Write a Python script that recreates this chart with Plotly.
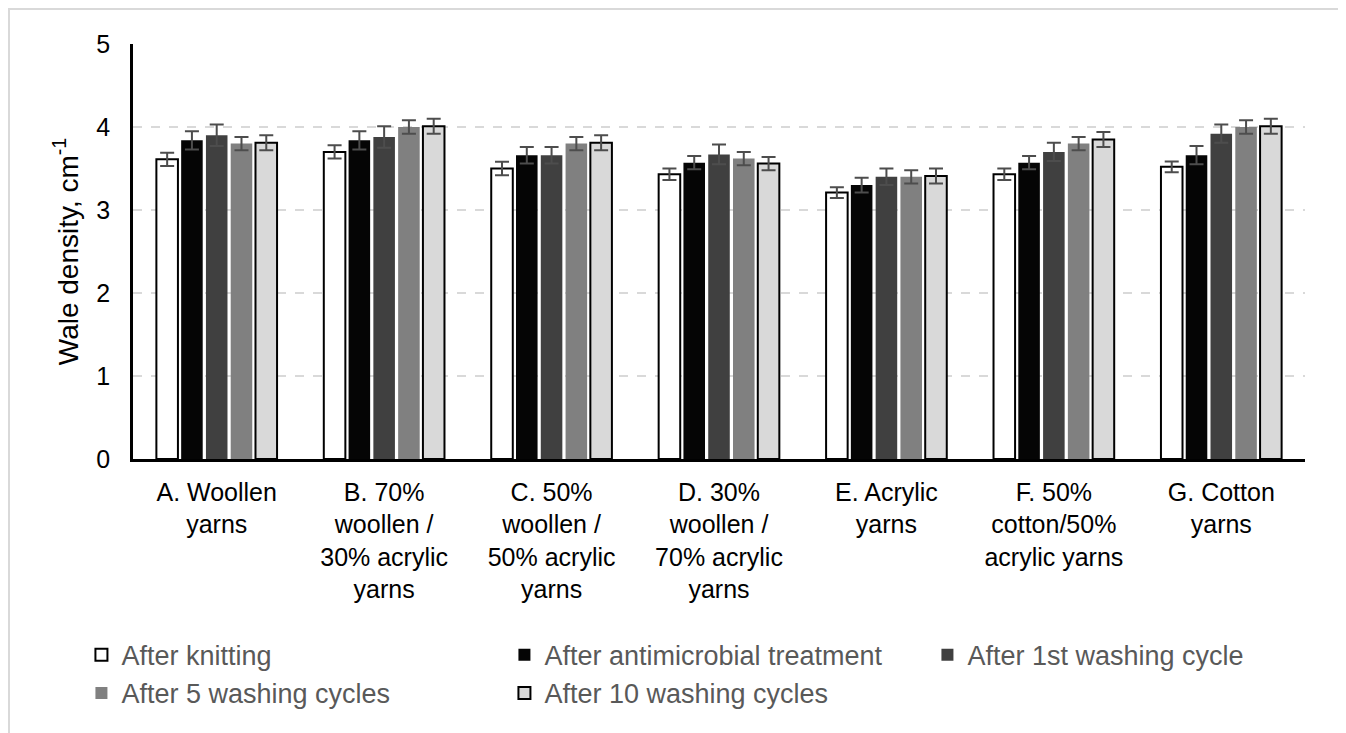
import plotly.graph_objects as go

categories = ["A. Woollen<br>yarns",
              "B. 70%<br>woollen /<br>30% acrylic<br>yarns",
              "C. 50%<br>woollen /<br>50% acrylic<br>yarns",
              "D. 30%<br>woollen /<br>70% acrylic<br>yarns",
              "E. Acrylic<br>yarns",
              "F. 50%<br>cotton/50%<br>acrylic yarns",
              "G. Cotton<br>yarns"]

series_names = ["After knitting", "After antimicrobial treatment", "After 1st washing cycle",
                "After 5 washing cycles", "After 10 washing cycles"]

after_knitting = [3.61, 3.70, 3.50, 3.43, 3.21, 3.43, 3.52]
after_antimicrobial = [3.84, 3.84, 3.66, 3.57, 3.30, 3.57, 3.66]
after_1st_wash = [3.90, 3.88, 3.66, 3.67, 3.40, 3.70, 3.92]
after_5_wash = [3.80, 4.00, 3.80, 3.62, 3.40, 3.80, 4.00]
after_10_wash = [3.81, 4.01, 3.81, 3.56, 3.41, 3.85, 4.01]

err_knitting = [0.08, 0.08, 0.08, 0.07, 0.065, 0.07, 0.065]
err_antimicrobial = [0.11, 0.11, 0.10, 0.08, 0.09, 0.08, 0.11]
err_1st_wash = [0.13, 0.13, 0.10, 0.12, 0.10, 0.11, 0.11]
err_5_wash = [0.08, 0.08, 0.08, 0.08, 0.08, 0.08, 0.08]
err_10_wash = [0.09, 0.09, 0.09, 0.08, 0.09, 0.09, 0.09]

y_ticks = [0, 1, 2, 3, 4, 5]

values = [after_knitting, after_antimicrobial, after_1st_wash, after_5_wash, after_10_wash]
errors = [err_knitting, err_antimicrobial, err_1st_wash, err_5_wash, err_10_wash]
fills = ["#ffffff", "#050505", "#404040", "#808080", "#d9d9d9"]
outlines = [2, 0, 0, 0, 2]

FONT = "Liberation Sans, Arial, sans-serif"

# plot area in figure pixels
L, T, PW, PH = 125, 36, 1172, 415
W, H = 1346, 733

fig = go.Figure()
for name, vals, errs, fc, lw in zip(series_names, values, errors, fills, outlines):
    fig.add_trace(go.Bar(
        name=name, x=categories, y=vals,
        marker=dict(color=fc, line=dict(color="#000000", width=lw)),
        error_y=dict(type="data", array=errs, visible=True, color="#4d4d4d", thickness=2, width=7),
    ))

fig.update_layout(
    width=W, height=H,
    margin=dict(l=L, r=W - L - PW, t=T, b=H - T - PH, autoexpand=False),
    paper_bgcolor="white", plot_bgcolor="white",
    barmode="group", bargap=0.26, bargroupgap=0.13,
    font=dict(family=FONT, color="#000000"),
    showlegend=True,
    legend=dict(orientation="h", x=-0.044, xanchor="left", y=-0.414, yanchor="top",
                font=dict(size=27, color="#595959", family=FONT),
                entrywidth=378, itemwidth=30, traceorder="normal",
                bgcolor="rgba(0,0,0,0)"),
    xaxis=dict(showline=True, linecolor="#000000", linewidth=2.5, ticks="",
               tickfont=dict(size=25, color="#000000"), ticklabelstandoff=9),
    yaxis=dict(range=[0, 5], tickvals=y_ticks, showline=True, linecolor="#000000", linewidth=2.5,
               showgrid=True, gridcolor="#d9d9d9", griddash="dash", gridwidth=1.5,
               zeroline=False, ticks="", tickfont=dict(size=25, color="#000000"),
               ticklabelstandoff=15,
               title=dict(text="Wale density, cm<sup>-1</sup>", font=dict(size=28, color="#000000"),
                          standoff=10)),
)

fig.add_shape(type="rect", xref="paper", yref="paper",
              x0=(1 - L) / PW, x1=(1334 - L) / PW,
              y0=(T + PH - 760) / PH, y1=(T + PH - 1) / PH,
              line=dict(color="#d9d9d9", width=2), fillcolor="rgba(0,0,0,0)", layer="below")

fig.write_html("out.html")
